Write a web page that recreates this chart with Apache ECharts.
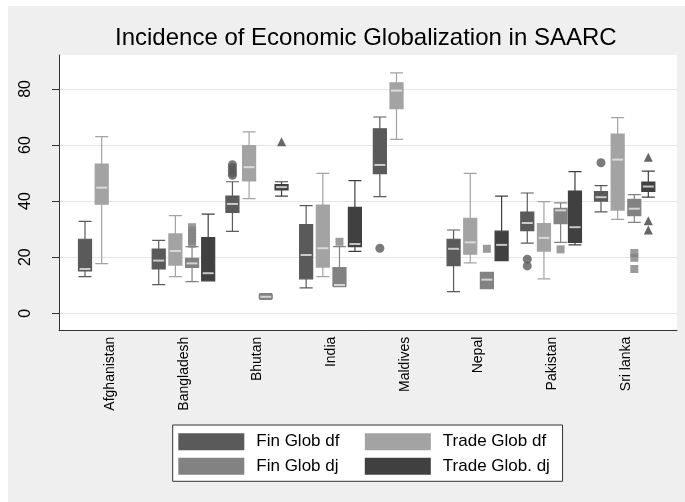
<!DOCTYPE html>
<html><head><meta charset="utf-8">
<script src="https://cdn.jsdelivr.net/npm/echarts@6/dist/echarts.min.js"></script>
<style>html,body{margin:0;padding:0;background:#fff}#c{width:685px;height:502px}</style>
</head><body><div id="c"></div>
<script>
const categories = ['Afghanistan','Bangladesh','Bhutan','India','Maldives','Nepal','Pakistan','Sri lanka'];
const seriesNames = ['Fin Glob df','Trade Glob df','Fin Glob dj','Trade Glob. dj'];
// [min, Q1, median, Q3, max] per category; null = no data
const finGlobDf = [
  [13.1,15.1,15.8,26.4,32.8],
  [10.2,15.8,18.8,22.9,26.0],
  [29.2,36.0,39.0,41.8,46.9],
  [9.1,12.3,20.8,31.6,38.4],
  [41.6,49.8,52.9,65.8,70.0],
  [7.7,17.0,23.0,26.4,29.7],
  [25.0,29.5,32.2,36.1,42.9],
  [36.2,40.0,41.4,43.4,45.5]
];
const tradeGlobDf = [
  [17.7,38.9,44.8,53.2,63.0],
  [13.1,17.2,22.2,28.3,34.8],
  [40.9,47.2,52.1,59.8,64.7],
  [13.1,16.5,23.2,38.6,49.9],
  [62.0,73.0,79.4,82.2,85.7],
  [18.0,21.1,25.3,33.9,49.9],
  [12.3,22.2,26.9,32.0,39.8],
  [33.5,36.8,54.8,63.9,69.8]
];
const finGlobDj = [
  null,
  [11.3,16.4,17.8,19.6,23.8],
  [5.0,5.4,5.9,6.6,7.0],
  [9.5,9.7,10.1,16.3,23.8],
  null,
  [8.8,8.8,12.0,14.6,14.6],
  [25.3,32.0,36.7,37.4,39.4],
  [32.4,34.8,37.3,40.6,42.3]
];
const tradeGlobDj = [
  null,
  [11.6,11.6,14.3,27.0,35.4],
  [41.8,44.0,45.0,45.9,46.9],
  [22.1,23.8,24.7,37.8,47.3],
  null,
  [18.8,18.8,24.4,29.3,41.8],
  [24.4,25.3,30.7,43.6,50.5],
  [41.4,43.5,45.2,46.8,50.7]
];
// outliers: [category index, value]
const finGlobDfOutliers = [[2,53.0],[2,52.0],[2,51.0],[2,50.0],[2,49.2],[4,23.2],[6,19.3],[6,16.9],[7,53.7]];
const tradeGlobDfOutliers = [];
const finGlobDjOutliers = [[1,30.7],[1,29.5],[1,28.3],[1,27.1],[1,25.9],[1,24.8],[3,25.5],[5,23.0],[6,22.8],[7,21.5],[7,19.8],[7,15.8]];
const tradeGlobDjOutliers = [[2,61.2],[7,55.6],[7,33.0],[7,29.7]];
const yTicks = [0,20,40,60,80];

const FONT = 'Liberation Sans, Arial, sans-serif';
const colors = ['#5a5a5a','#a3a3a3','#828282','#404040'];
const symbols = ['circle','circle','rect','triangle'];
const boxData = [finGlobDf, tradeGlobDf, finGlobDj, tradeGlobDj];
const outData = [finGlobDfOutliers, tradeGlobDfOutliers, finGlobDjOutliers, tradeGlobDjOutliers];
const Y_MIN = -6.2, Y_MAX = 92.1;
const PLOT = {left: 59, top: 55, width: 618, height: 275.7};
const BAND_LEFT = 73.15, BAND_W = 589.7;
const slotOffsets = [-25, -8.33, 8.33, 25];

const grids = [{left: PLOT.left, top: PLOT.top, width: PLOT.width, height: PLOT.height, show: true, backgroundColor: '#ffffff', borderWidth: 0}];
const xAxes = [{gridIndex: 0, type: 'value', min: 0, max: 1, axisLine: {show: true, onZero: false, lineStyle: {color: '#333', width: 1}}, axisTick: {show: false}, axisLabel: {show: false}, splitLine: {show: false}}];
const yAxes = [{gridIndex: 0, type: 'value', min: Y_MIN, max: Y_MAX,
  axisLine: {show: true, lineStyle: {color: '#333', width: 1}},
  axisTick: {show: true, length: 7, customValues: yTicks, lineStyle: {color: '#333'}},
  axisLabel: {customValues: yTicks, rotate: 90, fontSize: 16, color: '#000', margin: 25, fontFamily: FONT},
  splitLine: {show: true, lineStyle: {color: '#e6e6e6', width: 1}}}];
const series = [];

slotOffsets.forEach((off, k) => {
  const gi = k + 1;
  grids.push({left: BAND_LEFT + off, top: PLOT.top, width: BAND_W, height: PLOT.height});
  xAxes.push({gridIndex: gi, type: 'category', data: categories, show: false});
  yAxes.push({gridIndex: gi, type: 'value', min: Y_MIN, max: Y_MAX, show: false});
  const bd = [];
  const med = [];
  boxData[k].forEach((v, i) => { if (v) { bd.push([i].concat(v)); med.push([i, v[2]]); } });
  series.push({
    name: seriesNames[k], type: 'boxplot', xAxisIndex: gi, yAxisIndex: gi,
    data: bd, encode: {x: 0, y: [1, 2, 3, 4, 5]}, boxWidth: [13, 13], silent: true,
    itemStyle: {color: colors[k], borderColor: colors[k], borderWidth: 1.2}
  });
  series.push({
    type: 'scatter', xAxisIndex: gi, yAxisIndex: gi, data: med, symbol: 'rect',
    symbolSize: [11, 2], itemStyle: {color: '#e8e8e8'}, z: 5, silent: true
  });
  if (outData[k].length) {
    series.push({
      type: 'scatter', xAxisIndex: gi, yAxisIndex: gi, data: outData[k], symbol: symbols[k],
      symbolSize: symbols[k] === 'rect' ? 8 : 9, itemStyle: {color: colors[k]}, z: 4, silent: true
    });
  }
});
// label axis
grids.push({left: BAND_LEFT, top: PLOT.top, width: BAND_W, height: PLOT.height});
xAxes.push({gridIndex: 5, type: 'category', data: categories, axisLine: {show: false}, axisTick: {show: false},
  axisLabel: {rotate: 90, margin: 6, fontSize: 14, color: '#000', fontFamily: FONT, interval: 0}});
yAxes.push({gridIndex: 5, type: 'value', min: Y_MIN, max: Y_MAX, show: false});

const legendCommon = {
  orient: 'horizontal', itemWidth: 66, itemHeight: 17, icon: 'rect', selectedMode: false,
  itemStyle: {borderWidth: 0},
  textStyle: {fontSize: 17, color: '#000', fontFamily: FONT, padding: [0, 0, 0, 7]}
};
const chart = echarts.init(document.getElementById('c'), null, {renderer: 'canvas'});
chart.setOption({
  animation: false,
  backgroundColor: '#efefef',
  graphic: [
    {type: 'rect', shape: {x: 0, y: 0, width: 8, height: 502}, style: {fill: '#ffffff'}, silent: true},
    {type: 'rect', shape: {x: 0, y: 0, width: 685, height: 6}, style: {fill: '#ffffff'}, silent: true}
  ],
  title: {text: 'Incidence of Economic Globalization in SAARC', left: 115, top: 26, padding: 0,
    textStyle: {fontSize: 24, fontWeight: 'normal', color: '#000', fontFamily: FONT}},
  legend: [
    Object.assign({}, legendCommon, {
      left: 172.7, top: 425, itemGap: 25.4, z: 4,
      padding: [8.3, 16.4, 31, 5.6], backgroundColor: '#ffffff', borderColor: '#333', borderWidth: 1,
      data: [seriesNames[0], seriesNames[1]]
    }),
    Object.assign({}, legendCommon, {
      left: 172.7, top: 457.7, itemGap: 26.3, z: 6,
      padding: [0, 0, 0, 5.6],
      data: [seriesNames[2], seriesNames[3]]
    })
  ],
  grid: grids, xAxis: xAxes, yAxis: yAxes, series: series
});
</script></body></html>
